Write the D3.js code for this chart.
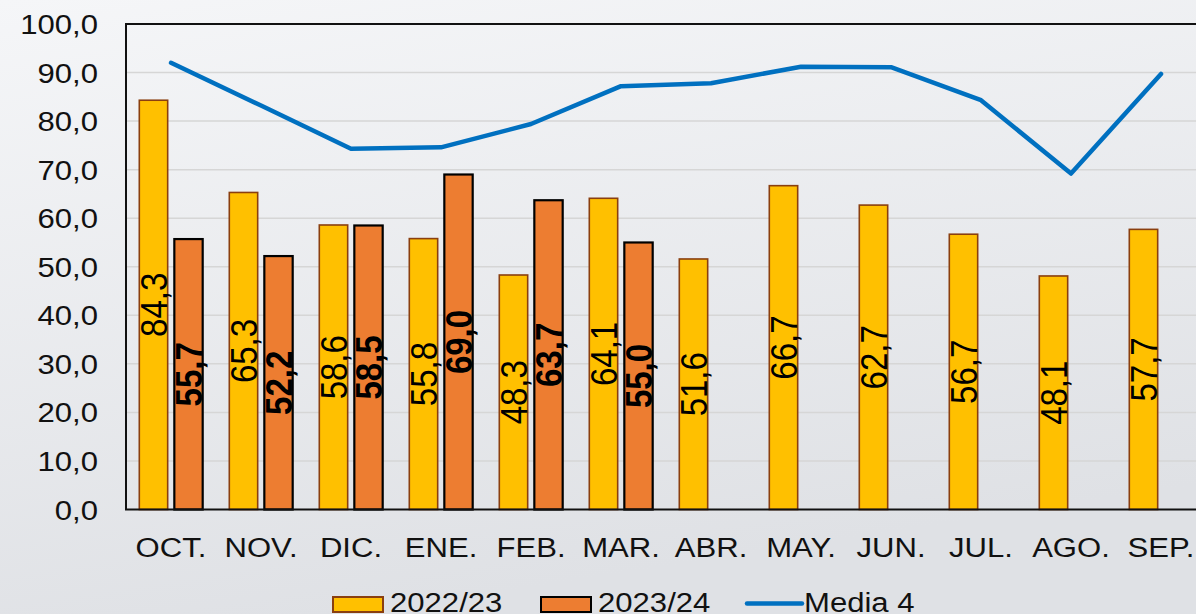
<!DOCTYPE html>
<html>
<head>
<meta charset="utf-8">
<script src="https://cdn.jsdelivr.net/npm/d3@7"></script>
<style>
  html, body { margin: 0; padding: 0; overflow: hidden; }
  svg { display: block; font-family: "Liberation Sans", Arial, sans-serif; }
</style>
</head>
<body>
<div class="chart"></div>
<script>
var months = ['OCT.', 'NOV.', 'DIC.', 'ENE.', 'FEB.', 'MAR.', 'ABR.', 'MAY.', 'JUN.', 'JUL.', 'AGO.', 'SEP.'];
var seriesNames = ['2022/23', '2023/24'];
var values2223 = [84.3, 65.3, 58.6, 55.8, 48.3, 64.1, 51.6, 66.7, 62.7, 56.7, 48.1, 57.7];
var values2324 = [55.7, 52.2, 58.5, 69.0, 63.7, 55.0, null, null, null, null, null, null];
var media4 = [92.0, 83.2, 74.3, 74.6, 79.4, 87.2, 87.8, 91.2, 91.1, 84.3, 69.2, 89.7];
var yTicks = [0, 10, 20, 30, 40, 50, 60, 70, 80, 90, 100];

var width = 1196, height = 614;
var stretch = 1.11; // text in the picture is a bit wider than normal

var svg = d3.select('.chart')
    .append('svg')
    .attr('width', width)
    .attr('height', height);

var defs = svg.append('defs');
var bg = defs.append('linearGradient')
    .attr('id', 'bg')
    .attr('x1', 0).attr('y1', 0)
    .attr('x2', 0.3).attr('y2', 1);
bg.append('stop').attr('offset', 0).attr('stop-color', '#f5f6f8');
bg.append('stop').attr('offset', 1).attr('stop-color', '#dfe1e5');

svg.append('rect')
    .attr('width', width)
    .attr('height', height)
    .attr('fill', 'url(#bg)');

var plot = { left: 126, right: 1206, top: 24, bottom: 509.5 };

var x = d3.scaleBand()
    .domain(months)
    .range([plot.left, plot.right]);

var xs = d3.scaleBand()
    .domain(seriesNames)
    .range([0, x.bandwidth()])
    .paddingInner(0.19)
    .paddingOuter(0.38);

var y = d3.scaleLinear()
    .domain([0, 100])
    .range([plot.bottom, plot.top]);

var fmt = function(v) { return d3.format('.1f')(v).replace('.', ','); };

// gridlines
svg.append('g')
    .selectAll('line')
    .data(yTicks.filter(function(d) { return d > 0 && d < 100; }))
    .enter()
    .append('line')
    .attr('x1', plot.left)
    .attr('x2', plot.right)
    .attr('y1', function(d) { return y(d); })
    .attr('y2', function(d) { return y(d); })
    .attr('stroke', '#d6d6d6')
    .attr('stroke-width', 1.5);

// y labels
svg.append('g')
    .selectAll('text')
    .data(yTicks)
    .enter()
    .append('text')
    .attr('transform', function(d) { return 'translate(98,' + y(d) + ') scale(' + stretch + ',1)'; })
    .attr('text-anchor', 'end')
    .attr('dy', '0.36em')
    .attr('font-size', 28)
    .attr('fill', '#111')
    .text(fmt);

// bars
var bars = [];
months.forEach(function(m, i) {
    bars.push({ m: m, s: '2022/23', v: values2223[i] });
    if (values2324[i] != null) {
        bars.push({ m: m, s: '2023/24', v: values2324[i] });
    }
});

var barColor = { '2022/23': '#ffc000', '2023/24': '#ed7d31' };
var barStroke = { '2022/23': '#8a3f0f', '2023/24': '#000' };

svg.append('g')
    .selectAll('rect')
    .data(bars)
    .enter()
    .append('rect')
    .attr('x', function(d) { return x(d.m) + xs(d.s); })
    .attr('y', function(d) { return y(d.v); })
    .attr('width', xs.bandwidth())
    .attr('height', function(d) { return y(0) - y(d.v); })
    .attr('fill', function(d) { return barColor[d.s]; })
    .attr('stroke', function(d) { return barStroke[d.s]; })
    .attr('stroke-width', function(d) { return d.s === '2023/24' ? 2.2 : 1.6; });

// bar labels
svg.append('g')
    .selectAll('text')
    .data(bars)
    .enter()
    .append('text')
    .attr('transform', function(d) {
        var cx = x(d.m) + xs(d.s) + xs.bandwidth() / 2;
        var cy = (y(d.v) + y(0)) / 2;
        return 'translate(' + cx + ',' + cy + ') scale(' + stretch + ',1) rotate(-90)';
    })
    .attr('text-anchor', 'middle')
    .attr('dy', '0.36em')
    .attr('font-size', 33)
    .attr('font-weight', function(d) { return d.s === '2023/24' ? 'bold' : 'normal'; })
    .attr('fill', '#000')
    .text(function(d) { return fmt(d.v); });

// media line
var line = d3.line()
    .x(function(d, i) { return x(months[i]) + x.bandwidth() / 2; })
    .y(function(d) { return y(d); });

svg.append('path')
    .datum(media4)
    .attr('d', line)
    .attr('fill', 'none')
    .attr('stroke', '#0070c0')
    .attr('stroke-width', 4.5)
    .attr('stroke-linejoin', 'round')
    .attr('stroke-linecap', 'round');

// plot border
svg.append('rect')
    .attr('x', plot.left)
    .attr('y', plot.top)
    .attr('width', plot.right - plot.left)
    .attr('height', plot.bottom - plot.top)
    .attr('fill', 'none')
    .attr('stroke', '#111')
    .attr('stroke-width', 2);

// x labels
svg.append('g')
    .selectAll('text')
    .data(months)
    .enter()
    .append('text')
    .attr('transform', function(d) { return 'translate(' + (x(d) + x.bandwidth() / 2) + ',557) scale(' + stretch + ',1)'; })
    .attr('text-anchor', 'middle')
    .attr('font-size', 28)
    .attr('fill', '#111')
    .text(function(d) { return d; });

// legend
var legendItems = [
    { name: '2022/23', type: 'bar', x: 333 },
    { name: '2023/24', type: 'bar', x: 541 },
    { name: 'Media 4', type: 'line', x: 747 }
];

var legend = svg.append('g');
legendItems.forEach(function(d) {
    if (d.type === 'bar') {
        legend.append('rect')
            .attr('x', d.x)
            .attr('y', 597)
            .attr('width', 50)
            .attr('height', 15)
            .attr('fill', barColor[d.name])
            .attr('stroke', barStroke[d.name])
            .attr('stroke-width', 2);
    } else {
        legend.append('line')
            .attr('x1', d.x)
            .attr('x2', d.x + 55)
            .attr('y1', 603.5)
            .attr('y2', 603.5)
            .attr('stroke', '#0070c0')
            .attr('stroke-width', 4.5)
            .attr('stroke-linecap', 'round');
    }
    legend.append('text')
        .attr('transform', 'translate(' + (d.x + 57) + ',612) scale(' + stretch + ',1)')
        .attr('font-size', 28)
        .attr('fill', '#111')
        .text(d.name);
});
</script>
</body>
</html>
